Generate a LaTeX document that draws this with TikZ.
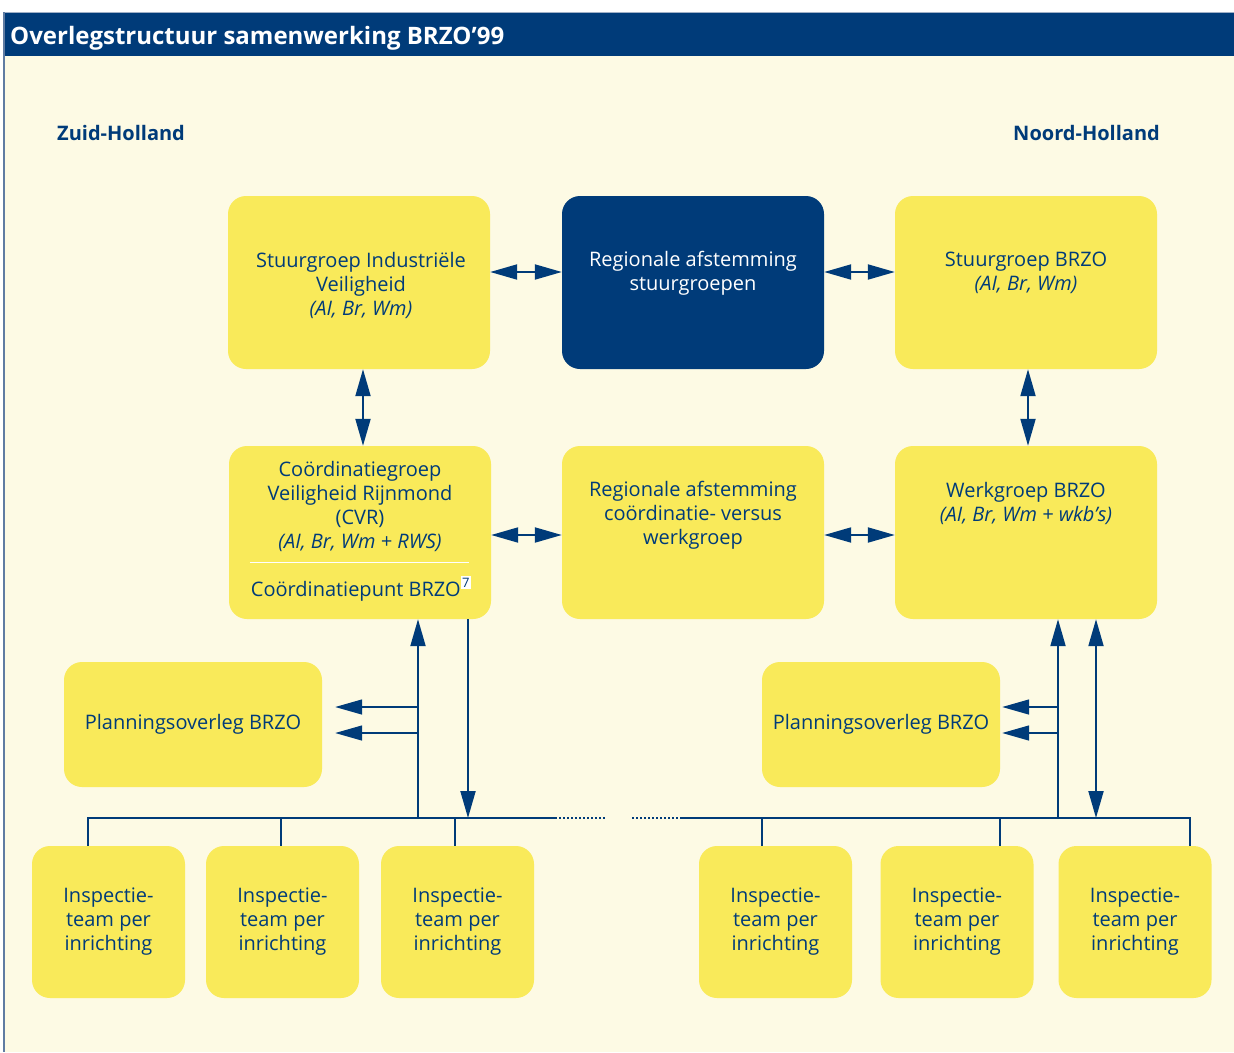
\documentclass[tikz,border=0pt]{standalone}
\usepackage{fontspec}
\setmainfont{Open Sans}
\usetikzlibrary{arrows.meta}

\definecolor{brzoblue}{RGB}{0,59,121}
\definecolor{brzoyellow}{RGB}{249,234,90}
\definecolor{brzocream}{RGB}{253,250,228}
\definecolor{brzoedge}{RGB}{96,124,162}

% footnote mark in a small white box
\newcommand{\fnmark}[1]{\raisebox{9pt}{\setlength{\fboxsep}{1.5pt}\colorbox{white}{\fontsize{13}{13}\selectfont #1}}}

\begin{document}
\begin{tikzpicture}[x=1pt, y=-1pt,
    every node/.append style={font=\fontsize{20}{24}\selectfont},
    box/.style={fill=brzoyellow, rounded corners=18pt, minimum width=262pt, minimum height=173pt, inner sep=0pt},
    darkbox/.style={box, fill=brzoblue},
    planbox/.style={box, minimum height=125pt, text=brzoblue},
    insbox/.style={box, minimum width=153pt, minimum height=152pt, align=center, text=brzoblue},
    boxtext/.style={text=brzoblue, align=center, inner sep=0pt},
    region/.style={text=brzoblue, font=\bfseries\fontsize{20}{24}\selectfont, inner sep=0pt},
    link/.style={draw=brzoblue, line width=2pt},
    tip/.style={link, -{Triangle[length=27pt, width=15pt]}},
    both/.style={link, {Triangle[length=27pt, width=15pt]}-{Triangle[length=27pt, width=15pt]}}]

  \useasboundingbox (0,0) rectangle (1234,1052);

  % frame and title bar
  \fill[brzoblue] (3,12) rectangle (1234,56);
  \fill[brzocream] (3,56) rectangle (1234,1052);
  \draw[brzoedge!60, line width=1pt] (3,12.5) -- (1234,12.5);
  \draw[brzoedge, line width=1.5pt] (3.75,12) -- (3.75,1052);
  \node[anchor=base west, text=white, inner sep=0pt, font=\bfseries\fontsize{24}{28}\selectfont] (title) at (10,44) {Overlegstructuur samenwerking BRZO’99};

  \node[region, anchor=base west] (zh) at (57,140) {Zuid-Holland};
  \node[region, anchor=base east] (nh) at (1160,140) {Noord-Holland};

  % top row
  \node[box] (sgzh) at (359,282.5) {};
  \node[darkbox] (ras) at (693,282.5) {};
  \node[box] (sgnh) at (1026,282.5) {};
  \node[boxtext] (sgzhtxt) at (361,285) {Stuurgroep Industriële\\Veiligheid\\\textit{(AI, Br, Wm)}};
  \node[boxtext, text=white] (rastxt) at (693,273) {Regionale afstemming\\stuurgroepen};
  \node[boxtext] (sgnhtxt) at (1026,273) {Stuurgroep BRZO\\\textit{(AI, Br, Wm)}};

  % middle row
  \node[box] (cvr) at (360,532.5) {};
  \node[box] (rac) at (693,532.5) {};
  \node[box] (wg) at (1026,532.5) {};
  \node[boxtext] (cvrtxt) at (360,506) {Coördinatiegroep\\Veiligheid Rijnmond\\(CVR)\\\textit{(AI, Br, Wm + RWS)}};
  \draw[white, line width=1pt] ([shift={(21pt,-29.5pt)}]cvr.west) -- ([shift={(-22pt,-29.5pt)}]cvr.east);
  \node[boxtext, anchor=base] (cvrpunt) at (361,596) {Coördinatiepunt BRZO\fnmark{7}};
  \node[boxtext] (ractxt) at (693,515) {Regionale afstemming\\coördinatie- versus\\werkgroep};
  \node[boxtext] (wgtxt) at (1026,503) {Werkgroep BRZO\\\textit{(AI, Br, Wm + wkb’s)}};

  % planning
  \node[planbox, minimum width=258pt] (po1) at (193,724.5) {Planningsoverleg BRZO};
  \node[planbox, minimum width=238pt] (po2) at (881,724.5) {Planningsoverleg BRZO};

  % inspection teams
  \foreach \n/\x in {1/108.5, 2/282.5, 3/457.5, 4/775.5, 5/957, 6/1135}
    \node[insbox] (ins\n) at (\x,922) {Inspectie-\\team per\\inrichting};

  % links between the groups
  \draw[both] ([yshift=10.5pt]sgzh.east) -- ([yshift=10.5pt]ras.west);
  \draw[both] ([yshift=10.5pt]ras.east) -- ([yshift=10.5pt]sgnh.west);
  \draw[both] ([xshift=4pt]sgzh.south) -- ([xshift=4pt]sgzh.south |- cvr.north);
  \draw[both] ([xshift=2pt]sgnh.south) -- ([xshift=2pt]sgnh.south |- wg.north);
  \draw[both] ([yshift=-2.5pt]cvr.east) -- ([yshift=-2.5pt]rac.west);
  \draw[both] ([yshift=-2.5pt]rac.east) -- ([yshift=-2.5pt]wg.west);

  % bus to the inspection teams
  \coordinate (zhup) at (418,818);
  \coordinate (zhdown) at (468,818);
  \coordinate (nhup) at (1058,818);
  \coordinate (nhboth) at (1096,818);
  \coordinate (busa) at (555,818);
  \coordinate (busb) at (605,818);
  \coordinate (busc) at (632,818);
  \coordinate (busd) at (680,818);

  \draw[link] (88,818 |- ins1.north) |- (busa);
  \draw[link, dash pattern=on 2pt off 2pt] (busa) -- (busb);
  \draw[link, dash pattern=on 2pt off 2pt] (busc) -- (busd);
  \draw[link] (busd) -| (1190,818 |- ins6.north);
  \foreach \n/\x in {2/281, 3/455, 4/762, 5/1000}
    \draw[link] (\x,818) -- (\x,818 |- ins\n.north);

  \draw[tip] (zhup) -- (zhup |- cvr.south);
  \draw[tip] (zhdown |- cvr.south) -- (zhdown);
  \draw[tip, line width=1.5pt] ([yshift=17.5pt]zhup |- po1.east) -- ([shift={(13pt,17.5pt)}]po1.east);
  \draw[tip, line width=1.5pt] ([yshift=-8.5pt]zhup |- po1.east) -- ([shift={(13pt,-8.5pt)}]po1.east);

  \draw[tip] (nhup) -- (nhup |- wg.south);
  \draw[both] (nhboth |- wg.south) -- (nhboth);
  \draw[tip, line width=1.5pt] ([yshift=17.5pt]nhup |- po2.east) -- ([shift={(2pt,17.5pt)}]po2.east);
  \draw[tip, line width=1.5pt] ([yshift=-8.5pt]nhup |- po2.east) -- ([shift={(2pt,-8.5pt)}]po2.east);
\end{tikzpicture}
\end{document}
